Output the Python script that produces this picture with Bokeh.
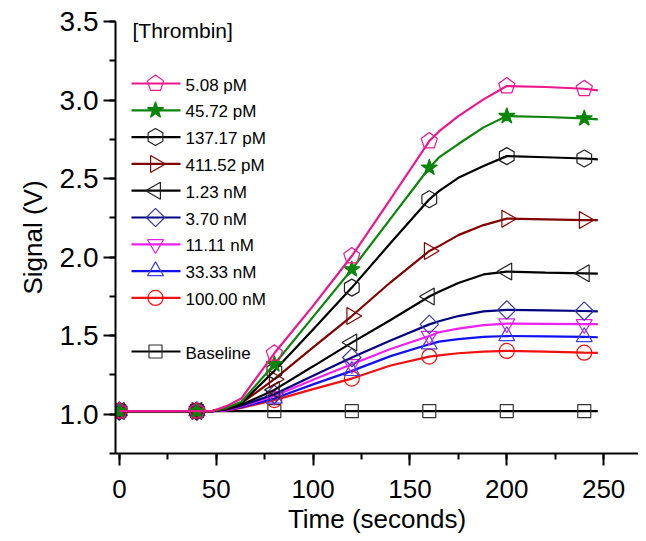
import math
from bokeh.plotting import figure
from bokeh.models import Range1d, SingleIntervalTicker, ColumnDataSource, PrintfTickFormatter
from bokeh.core.properties import value
from bokeh.embed import file_html
from bokeh.resources import INLINE
try:
    from bokeh.models import Ngon
except ImportError:
    Ngon = None

FONT = "Liberation Sans"

# ---------------- data ----------------
TIME = [0, 40, 48, 55, 63, 80, 100, 120, 140, 160, 165, 175, 188, 200, 220, 240, 247]
MARK_TIME = [0, 40, 80, 120, 160, 200, 240]

PM_5_08   = [1.02, 1.02, 1.02, 1.05, 1.10, 1.388, 1.69, 2.007, 2.37, 2.739, 2.80, 2.898, 3.004, 3.089, 3.083, 3.072, 3.061]
PM_45_72  = [1.02, 1.02, 1.02, 1.04, 1.08, 1.318, 1.62, 1.922, 2.245, 2.569, 2.635, 2.72, 2.826, 2.898, 2.892, 2.883, 2.877]
PM_137_17 = [1.02, 1.02, 1.02, 1.04, 1.07, 1.276, 1.54, 1.806, 2.09, 2.368, 2.42, 2.505, 2.58, 2.643, 2.636, 2.628, 2.622]
PM_411_52 = [1.02, 1.02, 1.02, 1.035, 1.07, 1.223, 1.425, 1.625, 1.84, 2.039, 2.07, 2.14, 2.204, 2.245, 2.241, 2.236, 2.236]
NM_1_23   = [1.02, 1.02, 1.02, 1.03, 1.06, 1.155, 1.305, 1.456, 1.60, 1.749, 1.78, 1.835, 1.89, 1.908, 1.902, 1.897, 1.895]
NM_3_70   = [1.02, 1.02, 1.02, 1.03, 1.055, 1.127, 1.245, 1.361, 1.47, 1.572, 1.592, 1.625, 1.655, 1.664, 1.661, 1.657, 1.655]
NM_11_11  = [1.02, 1.02, 1.02, 1.025, 1.05, 1.116, 1.22, 1.318, 1.415, 1.498, 1.522, 1.545, 1.567, 1.577, 1.575, 1.573, 1.573]
NM_33_33  = [1.02, 1.02, 1.02, 1.025, 1.045, 1.10, 1.19, 1.276, 1.37, 1.445, 1.462, 1.478, 1.492, 1.498, 1.495, 1.492, 1.49]
NM_100_00 = [1.02, 1.02, 1.02, 1.022, 1.04, 1.09, 1.16, 1.227, 1.31, 1.367, 1.375, 1.388, 1.398, 1.403, 1.398, 1.392, 1.39]

BASE_TIME = [0, 40, 80, 120, 160, 200, 240, 247]
BASELINE  = [1.02, 1.02, 1.02, 1.02, 1.02, 1.02, 1.02, 1.02]

LEGEND_TITLE = "[Thrombin]"
LABELS = ["5.08 pM", "45.72 pM", "137.17 pM", "411.52 pM", "1.23 nM",
          "3.70 nM", "11.11 nM", "33.33 nM", "100.00 nM", "Baseline"]

# ---------------- styles ----------------
LINE_COLORS = ["#EC178C", "#0A850A", "#000000", "#800000", "#000000",
               "#000080", "#F020F0", "#1010F0", "#F01010", "#000000"]
MARK_COLORS = ["#EC178C", "#0A850A", "#222222", "#800000", "#222222",
               "#3A3A9E", "#E020E0", "#4040E0", "#F01010", "#333333"]
# (kind, size, angle, filled)
MARKERS = [("pentagon", 8.5, 0.0, False),
           ("star", 17, 0.0, True),
           ("hex", 17, math.pi / 2, False),
           ("triangle", 17, -math.pi / 2, False),
           ("triangle", 17, math.pi / 2, False),
           ("square", 13, math.pi / 4, False),
           ("inverted_triangle", 16, 0.0, False),
           ("triangle", 16, 0.0, False),
           ("circle", 15, 0.0, False),
           ("square", 13, 0.0, False)]

FRAME_W, FRAME_H = 523, 432

p = figure(frame_width=FRAME_W, frame_height=FRAME_H,
           x_range=Range1d(-2, 268), y_range=Range1d(0.75, 3.5),
           output_backend="svg", toolbar_location=None,
           min_border_left=115, min_border_top=21, min_border_bottom=87, min_border_right=0)
p.outline_line_color = None
p.grid.visible = False
p.background_fill_color = "white"
p.border_fill_color = "white"

# pixel-space ranges for the legend block (layout only)
p.extra_x_ranges = {"lx": Range1d(0, FRAME_W)}
p.extra_y_ranges = {"ly": Range1d(FRAME_H, 0)}

p.xaxis.ticker = SingleIntervalTicker(interval=50, num_minor_ticks=2)
p.yaxis.ticker = SingleIntervalTicker(interval=0.5, num_minor_ticks=2)
p.yaxis.formatter = PrintfTickFormatter(format="%.1f")
for ax in (p.xaxis, p.yaxis):
    ax.axis_line_width = 2
    ax.axis_line_color = "black"
    ax.major_tick_line_width = 2
    ax.minor_tick_line_width = 2
    ax.major_tick_in = 0
    ax.minor_tick_in = 0
    ax.major_tick_out = 12
    ax.minor_tick_out = 6
    ax.major_label_text_font = FONT
    ax.major_label_text_color = "black"
    ax.axis_label_text_font = FONT
    ax.axis_label_text_font_size = "26px"
    ax.axis_label_text_font_style = "normal"
    ax.axis_label_text_color = "black"
p.xaxis.major_label_text_font_size = "26px"
p.yaxis.major_label_text_font_size = "28px"
p.xaxis.axis_label = "Time (seconds)"
p.yaxis.axis_label = "Signal (V)"
p.xaxis.major_label_standoff = 14
p.xaxis.axis_label_standoff = 3
p.yaxis.major_label_standoff = 5
p.yaxis.axis_label_standoff = 9


def draw_marker(src, i, **kw):
    kind, size, angle, filled = MARKERS[i]
    col = MARK_COLORS[i]
    if kind == "pentagon":
        if Ngon is not None:
            g = Ngon(x="x", y="y", radius=size, radius_units="screen", n=5, angle=angle,
                     line_color=col, line_width=1.2, fill_color=None)
            p.add_glyph(src, g, **kw)
        else:
            p.scatter(x="x", y="y", source=src, marker="hex", size=2 * size,
                      line_color=col, line_width=1.2, fill_color=None, **kw)
    else:
        p.scatter(x="x", y="y", source=src, marker=kind, size=size, angle=angle,
                  line_color=col, line_width=1.2,
                  fill_color=col if filled else None, **kw)


SERIES = [PM_5_08, PM_45_72, PM_137_17, PM_411_52, NM_1_23,
          NM_3_70, NM_11_11, NM_33_33, NM_100_00]
mark_idx = [TIME.index(t) for t in MARK_TIME]

# baseline first (drawn underneath)
p.line(BASE_TIME, BASELINE, line_color=LINE_COLORS[9], line_width=2.2)
draw_marker(ColumnDataSource(dict(x=BASE_TIME[:-1], y=BASELINE[:-1])), 9)

for i in reversed(range(len(SERIES))):
    ys = SERIES[i]
    p.line(TIME, ys, line_color=LINE_COLORS[i], line_width=2.2)
    draw_marker(ColumnDataSource(dict(x=MARK_TIME, y=[ys[k] for k in mark_idx])), i)

# ---------------- legend (pixel layout inside the frame) ----------------
LEG_X0, LEG_X1, LEG_MX, LEG_TX = 16, 65, 40, 70
LEG_Y0, LEG_ROW = 62, 26.8
rows = list(range(9)) + [10]
lkw = dict(x_range_name="lx", y_range_name="ly")

p.text(x=[17], y=[9], text=[LEGEND_TITLE], text_font=value(FONT), text_font_size="21px",
       text_baseline="middle", text_align="left", text_color="black", **lkw)
for j, r in enumerate(rows):
    yy = LEG_Y0 + r * LEG_ROW
    p.segment(x0=[LEG_X0], y0=[yy], x1=[LEG_X1], y1=[yy], line_color=LINE_COLORS[j],
              line_width=2.2, **lkw)
    draw_marker(ColumnDataSource(dict(x=[LEG_MX], y=[yy])), j, **lkw)
p.text(x=[LEG_TX] * len(rows), y=[LEG_Y0 + r * LEG_ROW + 1.5 for r in rows], text=LABELS,
       text_font=value(FONT), text_font_size="17px", text_baseline="middle",
       text_align="left", text_color="black", **lkw)

open("out.html", "w").write(file_html(p, INLINE))
